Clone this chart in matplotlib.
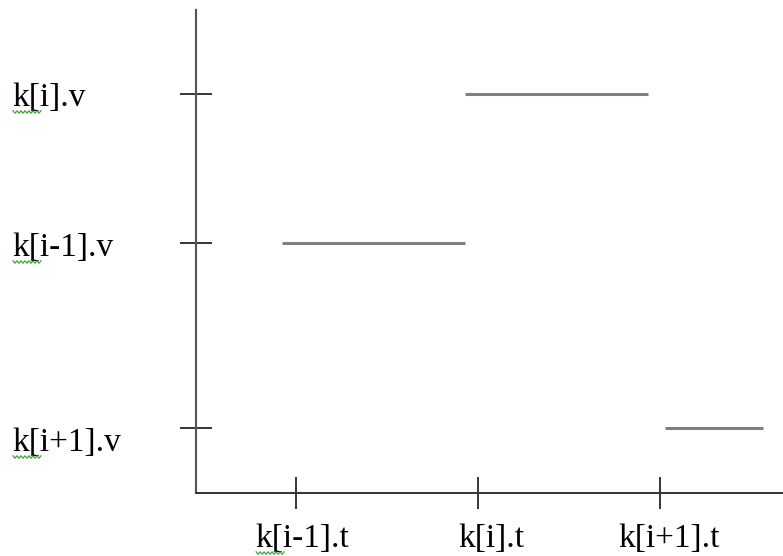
import numpy as np
import matplotlib.pyplot as plt
from matplotlib.lines import Line2D
from matplotlib.transforms import ScaledTranslation

# key frames: time ticks and value levels
t_ticks = [1, 2, 3]
t_labels = ["k[i-1].t", "k[i].t", "k[i+1].t"]
v_ticks = [3.99, 2.50, 0.65]
v_labels = ["k[i].v", "k[i-1].v", "k[i+1].v"]

# held value segments (step between keys)
seg_v = [2.50, 3.99, 0.65]
seg_start = [0.923, 1.929, 3.027]
seg_end = [1.929, 2.934, 3.566]

plt.rcParams['font.family'] = ['Liberation Serif', 'DejaVu Serif']

fig = plt.figure(figsize=(7.83, 5.56), dpi=100)
ax = fig.add_axes([196 / 783, 63 / 556, 587 / 783, 483 / 556])

ax.hlines(seg_v, seg_start, seg_end, color="#808080", linewidth=2.2)

ax.set_xlim(0.45, 3.676)
ax.set_ylim(0, 4.83)

ax.spines["top"].set_visible(False)
ax.spines["right"].set_visible(False)
ax.spines["left"].set_color("#555555")
ax.spines["bottom"].set_color("#333333")
ax.spines["left"].set_linewidth(1.5)
ax.spines["bottom"].set_linewidth(1.4)

ax.set_xticks(t_ticks, t_labels)
ax.set_yticks(v_ticks, v_labels)
ax.tick_params(direction="inout", length=23, width=1.1, color="black",
               labelsize=24, labelcolor="black")
ax.tick_params(axis="x", pad=27.4)
ax.tick_params(axis="y", pad=121)

# small label nudges (pixels) as in the original drawing
x_nudge = [6, 13, 9]
y_nudge = [12, 13, 23]
for lbl, dx in zip(ax.get_xticklabels(), x_nudge):
    lbl.set_verticalalignment("baseline")
    lbl.set_transform(lbl.get_transform() + ScaledTranslation(dx / 100, 0, fig.dpi_scale_trans))
for lbl, dy in zip(ax.get_yticklabels(), y_nudge):
    lbl.set_horizontalalignment("left")
    lbl.set_verticalalignment("baseline")
    lbl.set_transform(lbl.get_transform() + ScaledTranslation(0, -dy / 100, fig.dpi_scale_trans))

# spell-check squiggles under the "k" of some labels
fig.canvas.draw()
renderer = fig.canvas.get_renderer()
marked = list(ax.get_yticklabels()) + [ax.get_xticklabels()[0]]
for lbl in marked:
    bb = lbl.get_window_extent(renderer)
    x0 = bb.x0 + 1
    base = lbl.get_transform().transform(lbl.get_position())[1]
    xs = np.arange(x0, x0 + 29, 2.0)
    ys = base - 6 + np.where(np.arange(len(xs)) % 2 == 0, 1.2, -1.2)
    fig.add_artist(Line2D(xs, ys, transform=None, color="#3aa83a", linewidth=0.9))

plt.savefig("out.png", dpi=100)
